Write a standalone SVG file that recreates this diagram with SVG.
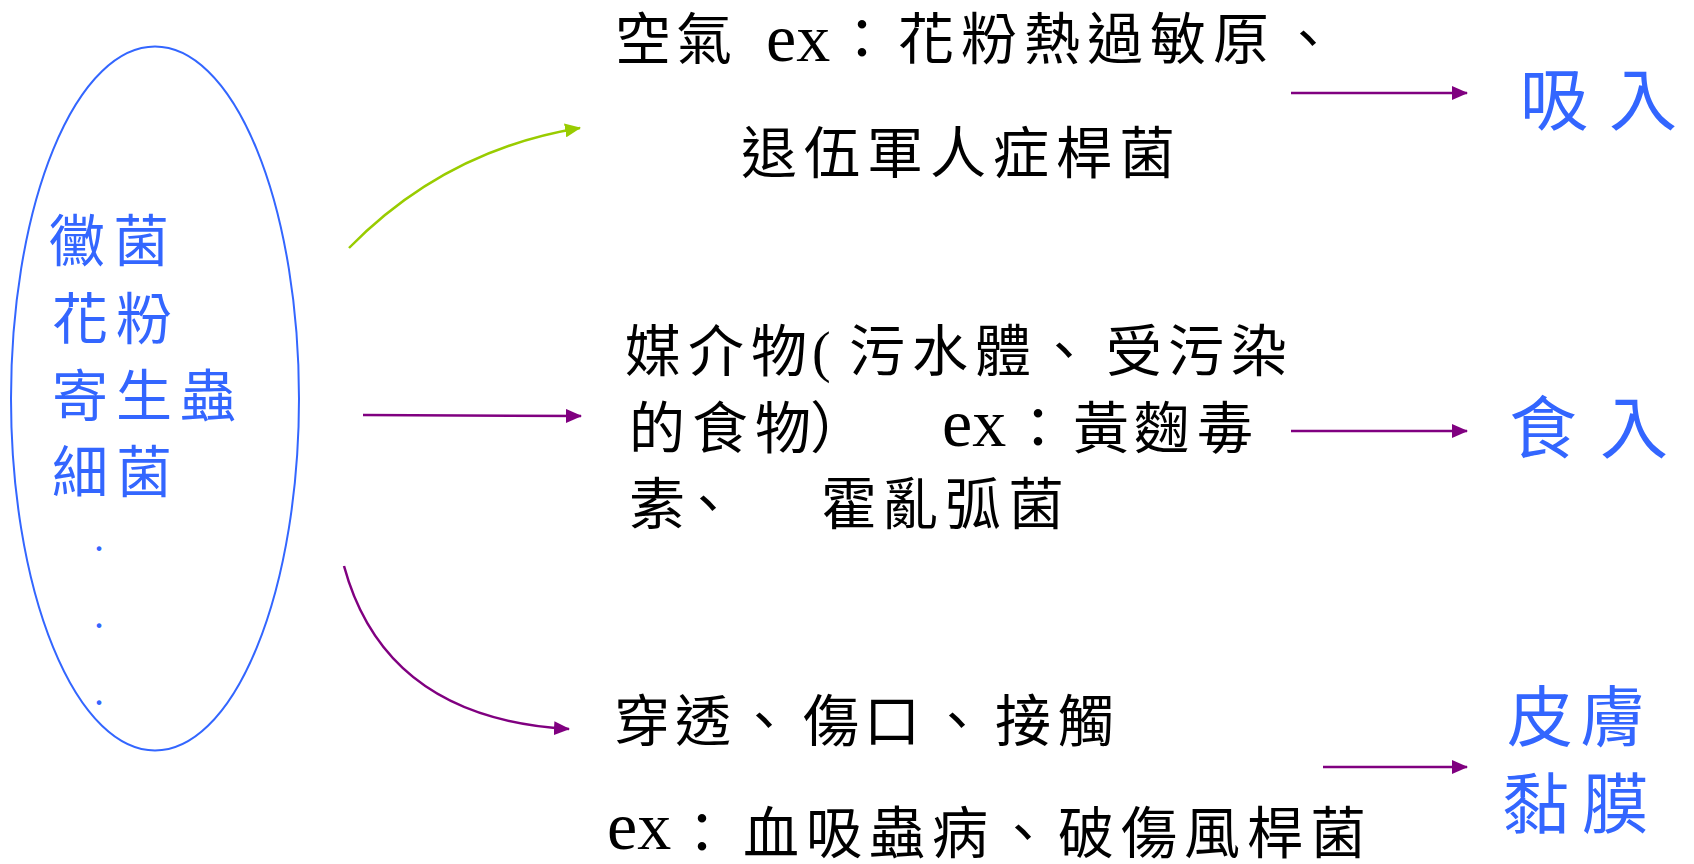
<svg xmlns="http://www.w3.org/2000/svg" width="1694" height="864" viewBox="0 0 1694 864">
<style>
.t{font-family:"Liberation Serif","Noto Sans CJK TC",serif;font-size:56px;fill:#000}
.ex{font-family:"Liberation Serif",serif;font-size:68px;fill:#000}
.b{font-family:"Noto Sans CJK TC","Liberation Sans",sans-serif;font-size:56px;fill:#3366FF}
.r{font-family:"Noto Sans CJK TC","Liberation Sans",sans-serif;font-size:68px;fill:#3366FF}
.dot{font-family:"Liberation Serif",serif;font-size:40px;fill:#3366FF}
.cp{fill:none;stroke:#800080;stroke-width:2.5}
.cg{fill:none;stroke:#99CC00;stroke-width:2.5}
</style>
<defs>
<marker id="ap" markerUnits="userSpaceOnUse" markerWidth="16" markerHeight="14" refX="15" refY="7" orient="auto"><path d="M0,0 L16,7 L0,14 z" fill="#800080"/></marker>
<marker id="ag" markerUnits="userSpaceOnUse" markerWidth="16" markerHeight="14" refX="15" refY="7" orient="auto"><path d="M0,0 L16,7 L0,14 z" fill="#99CC00"/></marker>
</defs>
<rect width="1694" height="864" fill="#fff"/>
<g id="node-source">
<ellipse cx="155" cy="398.5" rx="144" ry="352" fill="none" stroke="#3366FF" stroke-width="2"/>
<text class="b" y="261" x="49 113">黴菌</text>
<text class="b" y="339" x="52 116">花粉</text>
<text class="b" y="416" x="52 116 180">寄生蟲</text>
<text class="b" y="492" x="52 116">細菌</text>
<text class="dot" x="94" y="551">.</text>
<text class="dot" x="94" y="628">.</text>
<text class="dot" x="94" y="705">.</text>
</g>
<g id="node-air">
<text class="t" y="59" x="615 676">空氣</text>
<text class="ex" x="766" y="61">ex</text>
<text class="t" y="59" x="834 898 961 1024 1087 1150 1213 1280">：花粉熱過敏原、</text>
<text class="t" y="173" x="741 804 867 930 993 1056 1119">退伍軍人症桿菌</text>
</g>
<g id="node-food">
<text class="t" y="371" x="625 688 751 812 849 912 975 1036 1106 1168 1231">媒介物(污水體、受污染</text>
<text class="t" y="448" x="629 692 755 810">的食物）</text>
<text class="ex" x="942" y="446">ex</text>
<text class="t" y="448" x="1010 1073 1134 1197">：黃麴毒</text>
<text class="t" y="524" x="629 680">素、</text>
<text class="t" y="524" x="821 882 945 1008">霍亂弧菌</text>
</g>
<g id="node-contact">
<text class="t" y="741" x="614 675 736 803 864 929 995 1058">穿透、傷口、接觸</text>
<text class="ex" x="607" y="849">ex</text>
<text class="t" y="853" x="674 743 806 869 932 995 1058 1121 1184 1247 1310">：血吸蟲病、破傷風桿菌</text>
</g>
<g id="node-inhale"><text class="r" y="125" x="1520 1609">吸入</text></g>
<g id="node-ingest"><text class="r" y="453" x="1509 1600">食入</text></g>
<g id="node-skin">
<text class="r" style="font-size:66px" y="741" x="1507 1580">皮膚</text>
<text class="r" style="font-size:66px" y="828" x="1503 1582">黏膜</text>
</g>
<g id="connectors">
<path class="cg" d="M349,248 Q445,150 580,128" marker-end="url(#ag)"/>
<path class="cp" d="M363,415 L581,416" marker-end="url(#ap)"/>
<path class="cp" d="M344,566 Q385.5,718.5 569,729" marker-end="url(#ap)"/>
<path class="cp" d="M1291,93 L1467,93" marker-end="url(#ap)"/>
<path class="cp" d="M1291,431 L1467,431" marker-end="url(#ap)"/>
<path class="cp" d="M1323,767 L1467,767" marker-end="url(#ap)"/>
</g>
</svg>
